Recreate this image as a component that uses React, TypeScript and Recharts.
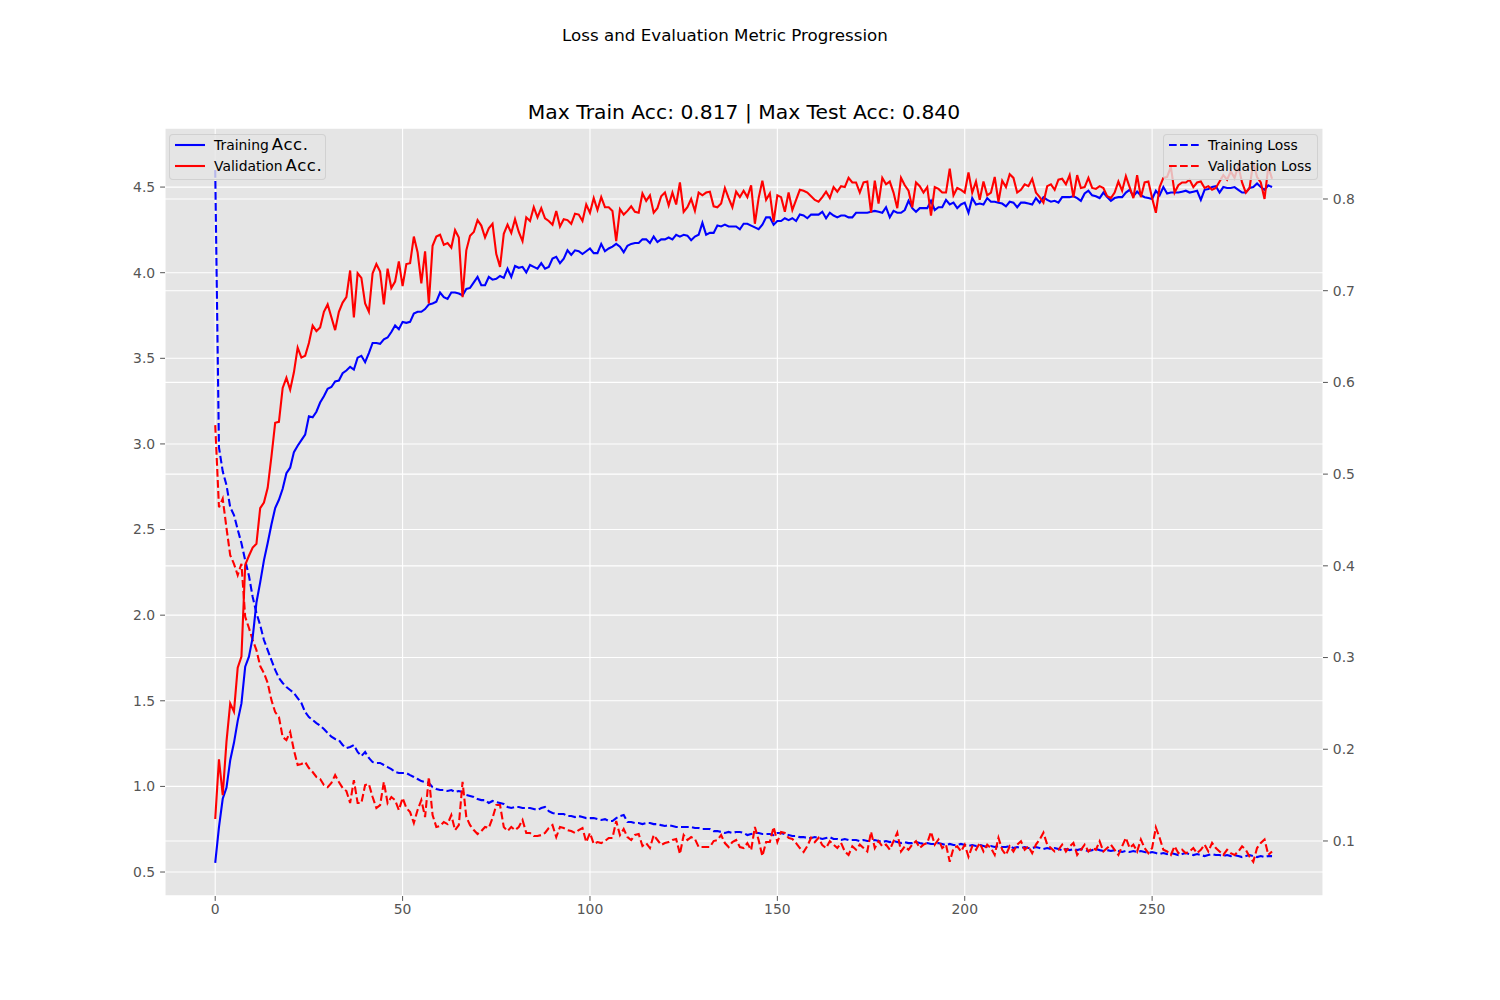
import { CartesianGrid, Line, LineChart, XAxis, YAxis } from "recharts";

// values, one per epoch (0..282)
const trainAcc = [
  0.076, 0.115, 0.146, 0.158, 0.188, 0.207, 0.231, 0.250, 0.290, 0.301,
  0.322, 0.360, 0.382, 0.406, 0.425, 0.445, 0.463, 0.472, 0.484, 0.501,
  0.507, 0.524, 0.531, 0.537, 0.543, 0.563, 0.562, 0.568, 0.578, 0.585,
  0.593, 0.595, 0.601, 0.602, 0.610, 0.613, 0.617, 0.614, 0.627, 0.629,
  0.622, 0.632, 0.643, 0.643, 0.642, 0.647, 0.649, 0.655, 0.662, 0.658,
  0.666, 0.665, 0.666, 0.675, 0.677, 0.677, 0.680, 0.685, 0.686, 0.688,
  0.698, 0.693, 0.691, 0.698, 0.698, 0.697, 0.695, 0.702, 0.703, 0.709,
  0.715, 0.706, 0.706, 0.715, 0.712, 0.713, 0.716, 0.714, 0.724, 0.715,
  0.727, 0.725, 0.726, 0.720, 0.728, 0.726, 0.724, 0.730, 0.724, 0.726,
  0.735, 0.737, 0.730, 0.735, 0.744, 0.739, 0.744, 0.743, 0.740, 0.743,
  0.746, 0.741, 0.741, 0.751, 0.743, 0.746, 0.748, 0.751, 0.748, 0.742,
  0.749, 0.751, 0.752, 0.752, 0.756, 0.756, 0.752, 0.759, 0.753, 0.756,
  0.756, 0.758, 0.756, 0.761, 0.759, 0.761, 0.760, 0.755, 0.759, 0.761,
  0.774, 0.761, 0.763, 0.763, 0.771, 0.770, 0.772, 0.770, 0.770, 0.770,
  0.767, 0.773, 0.773, 0.771, 0.769, 0.767, 0.772, 0.780, 0.780, 0.772,
  0.776, 0.776, 0.779, 0.777, 0.779, 0.776, 0.783, 0.782, 0.779, 0.783,
  0.783, 0.783, 0.786, 0.779, 0.785, 0.782, 0.780, 0.782, 0.782, 0.780,
  0.780, 0.785, 0.785, 0.785, 0.785, 0.786, 0.787, 0.786, 0.785, 0.791,
  0.780, 0.787, 0.785, 0.785, 0.788, 0.798, 0.790, 0.786, 0.790, 0.790,
  0.790, 0.798, 0.788, 0.791, 0.791, 0.799, 0.794, 0.796, 0.790, 0.794,
  0.796, 0.785, 0.801, 0.794, 0.795, 0.794, 0.801, 0.797, 0.797, 0.796,
  0.795, 0.792, 0.797, 0.796, 0.791, 0.796, 0.796, 0.795, 0.794, 0.801,
  0.796, 0.802, 0.799, 0.797, 0.798, 0.796, 0.802, 0.802, 0.802, 0.803,
  0.801, 0.798, 0.806, 0.809, 0.804, 0.803, 0.801, 0.807, 0.802, 0.798,
  0.801, 0.802, 0.802, 0.807, 0.810, 0.803, 0.808, 0.804, 0.802, 0.801,
  0.800, 0.809, 0.804, 0.813, 0.806, 0.807, 0.807, 0.807, 0.808, 0.809,
  0.807, 0.808, 0.809, 0.799, 0.810, 0.811, 0.813, 0.814, 0.807, 0.813,
  0.812, 0.812, 0.813, 0.810, 0.807, 0.807, 0.812, 0.813, 0.817, 0.813,
  0.810, 0.815, 0.813,
];

const valAcc = [
  0.124, 0.189, 0.150, 0.208, 0.250, 0.241, 0.289, 0.301, 0.401, 0.411,
  0.420, 0.424, 0.463, 0.469, 0.485, 0.519, 0.556, 0.557, 0.594, 0.605,
  0.592, 0.611, 0.638, 0.627, 0.629, 0.643, 0.662, 0.656, 0.660, 0.677,
  0.685, 0.671, 0.657, 0.677, 0.687, 0.693, 0.722, 0.671, 0.719, 0.714,
  0.686, 0.677, 0.719, 0.729, 0.721, 0.685, 0.724, 0.703, 0.710, 0.732,
  0.705, 0.729, 0.730, 0.759, 0.742, 0.708, 0.743, 0.686, 0.749, 0.759,
  0.761, 0.750, 0.752, 0.747, 0.766, 0.758, 0.693, 0.744, 0.760, 0.764,
  0.777, 0.771, 0.758, 0.768, 0.773, 0.740, 0.726, 0.762, 0.772, 0.763,
  0.778, 0.764, 0.754, 0.780, 0.776, 0.791, 0.780, 0.790, 0.779, 0.776,
  0.772, 0.787, 0.770, 0.778, 0.777, 0.773, 0.784, 0.783, 0.776, 0.794,
  0.785, 0.801, 0.788, 0.802, 0.791, 0.791, 0.787, 0.754, 0.789, 0.783,
  0.787, 0.792, 0.786, 0.785, 0.806, 0.798, 0.804, 0.785, 0.790, 0.803,
  0.807, 0.793, 0.807, 0.794, 0.818, 0.786, 0.791, 0.800, 0.787, 0.807,
  0.804, 0.807, 0.808, 0.792, 0.791, 0.795, 0.812, 0.801, 0.791, 0.808,
  0.802, 0.809, 0.802, 0.815, 0.773, 0.801, 0.820, 0.799, 0.806, 0.775,
  0.804, 0.802, 0.786, 0.807, 0.788, 0.799, 0.810, 0.809, 0.807, 0.803,
  0.799, 0.797, 0.802, 0.808, 0.801, 0.813, 0.808, 0.814, 0.813, 0.823,
  0.818, 0.818, 0.807, 0.818, 0.819, 0.785, 0.820, 0.795, 0.823, 0.816,
  0.819, 0.807, 0.790, 0.823, 0.815, 0.809, 0.791, 0.818, 0.814, 0.807,
  0.813, 0.782, 0.813, 0.811, 0.807, 0.807, 0.833, 0.804, 0.812, 0.810,
  0.807, 0.829, 0.807, 0.819, 0.799, 0.819, 0.804, 0.807, 0.824, 0.797,
  0.820, 0.813, 0.827, 0.823, 0.807, 0.810, 0.816, 0.814, 0.822, 0.807,
  0.802, 0.796, 0.814, 0.816, 0.810, 0.821, 0.822, 0.816, 0.826, 0.802,
  0.826, 0.812, 0.813, 0.823, 0.812, 0.811, 0.814, 0.812, 0.803, 0.801,
  0.807, 0.819, 0.809, 0.825, 0.813, 0.801, 0.826, 0.802, 0.818, 0.819,
  0.801, 0.785, 0.813, 0.823, 0.824, 0.835, 0.807, 0.815, 0.818, 0.818,
  0.821, 0.813, 0.818, 0.819, 0.812, 0.814, 0.810, 0.812, 0.819, 0.826,
  0.821, 0.830, 0.823, 0.836, 0.818, 0.807, 0.812, 0.840, 0.824, 0.818,
  0.800, 0.835, 0.822,
];

const trainLoss = [
  4.600, 2.980, 2.840, 2.760, 2.630, 2.585, 2.500, 2.420, 2.320, 2.230,
  2.106, 2.012, 1.942, 1.855, 1.796, 1.738, 1.680, 1.633, 1.604, 1.580,
  1.563, 1.545, 1.516, 1.487, 1.434, 1.405, 1.388, 1.370, 1.355, 1.335,
  1.312, 1.290, 1.277, 1.271, 1.242, 1.224, 1.230, 1.242, 1.201, 1.177,
  1.201, 1.166, 1.142, 1.137, 1.137, 1.125, 1.113, 1.101, 1.084, 1.078,
  1.078, 1.078, 1.066, 1.055, 1.043, 1.031, 1.026, 1.020, 0.996, 0.985,
  0.979, 0.979, 0.973, 0.979, 0.967, 0.973, 0.967, 0.950, 0.944, 0.938,
  0.926, 0.920, 0.920, 0.903, 0.915, 0.909, 0.903, 0.897, 0.880, 0.874,
  0.880, 0.880, 0.874, 0.874, 0.874, 0.868, 0.862, 0.874, 0.880, 0.856,
  0.845, 0.839, 0.839, 0.839, 0.827, 0.827, 0.821, 0.827, 0.821, 0.815,
  0.815, 0.815, 0.809, 0.804, 0.809, 0.798, 0.798, 0.815, 0.827, 0.833,
  0.792, 0.792, 0.786, 0.786, 0.780, 0.786, 0.786, 0.780, 0.780, 0.774,
  0.769, 0.774, 0.769, 0.763, 0.763, 0.763, 0.763, 0.763, 0.757, 0.757,
  0.751, 0.751, 0.751, 0.739, 0.739, 0.734, 0.728, 0.734, 0.728, 0.734,
  0.734, 0.728, 0.716, 0.722, 0.728, 0.728, 0.722, 0.722, 0.722, 0.716,
  0.728, 0.728, 0.722, 0.716, 0.710, 0.710, 0.704, 0.704, 0.699, 0.699,
  0.704, 0.699, 0.693, 0.699, 0.704, 0.693, 0.693, 0.687, 0.693, 0.687,
  0.687, 0.687, 0.681, 0.687, 0.681, 0.681, 0.687, 0.681, 0.675, 0.681,
  0.675, 0.681, 0.675, 0.669, 0.675, 0.669, 0.669, 0.675, 0.669, 0.664,
  0.669, 0.664, 0.664, 0.669, 0.664, 0.658, 0.664, 0.658, 0.658, 0.664,
  0.658, 0.652, 0.658, 0.652, 0.658, 0.652, 0.646, 0.652, 0.646, 0.652,
  0.646, 0.646, 0.652, 0.640, 0.646, 0.640, 0.646, 0.640, 0.640, 0.646,
  0.640, 0.634, 0.640, 0.634, 0.640, 0.634, 0.628, 0.634, 0.628, 0.634,
  0.628, 0.634, 0.628, 0.623, 0.628, 0.634, 0.628, 0.623, 0.628, 0.623,
  0.628, 0.623, 0.617, 0.623, 0.617, 0.623, 0.617, 0.623, 0.617, 0.611,
  0.617, 0.611, 0.605, 0.611, 0.605, 0.611, 0.605, 0.599, 0.605, 0.611,
  0.605, 0.599, 0.605, 0.599, 0.593, 0.599, 0.605, 0.599, 0.599, 0.593,
  0.599, 0.593, 0.599, 0.593, 0.587, 0.593, 0.599, 0.593, 0.587, 0.593,
  0.587, 0.593, 0.593,
];

const valLoss = [
  3.110, 2.630, 2.680, 2.510, 2.350, 2.300, 2.234, 2.300, 1.990, 1.925,
  1.855, 1.796, 1.703, 1.662, 1.604, 1.504, 1.434, 1.405, 1.288, 1.271,
  1.318, 1.212, 1.125, 1.131, 1.142, 1.107, 1.084, 1.055, 1.043, 1.008,
  0.996, 1.020, 1.066, 1.026, 0.991, 0.973, 0.903, 1.037, 0.903, 0.903,
  1.008, 1.014, 0.938, 0.874, 0.891, 1.026, 0.903, 0.938, 0.920, 0.862,
  0.932, 0.874, 0.850, 0.786, 0.862, 0.920, 0.821, 1.055, 0.833, 0.763,
  0.769, 0.792, 0.780, 0.833, 0.745, 0.774, 1.026, 0.821, 0.774, 0.745,
  0.722, 0.739, 0.763, 0.757, 0.815, 0.891, 0.891, 0.763, 0.739, 0.763,
  0.745, 0.763, 0.804, 0.728, 0.728, 0.710, 0.710, 0.716, 0.728, 0.757,
  0.774, 0.704, 0.763, 0.757, 0.745, 0.739, 0.728, 0.745, 0.757, 0.675,
  0.728, 0.664, 0.675, 0.669, 0.681, 0.699, 0.699, 0.798, 0.716, 0.751,
  0.704, 0.687, 0.716, 0.722, 0.652, 0.669, 0.640, 0.716, 0.687, 0.658,
  0.669, 0.675, 0.687, 0.693, 0.605, 0.716, 0.687, 0.704, 0.693, 0.646,
  0.646, 0.646, 0.646, 0.681, 0.687, 0.716, 0.669, 0.646, 0.675, 0.687,
  0.646, 0.640, 0.669, 0.628, 0.763, 0.687, 0.593, 0.675, 0.675, 0.763,
  0.675, 0.734, 0.728, 0.699, 0.693, 0.669, 0.640, 0.617, 0.652, 0.700,
  0.675, 0.700, 0.657, 0.640, 0.680, 0.660, 0.640, 0.670, 0.620, 0.600,
  0.650, 0.630, 0.660, 0.640, 0.620, 0.735, 0.640, 0.680, 0.650, 0.660,
  0.630, 0.680, 0.730, 0.620, 0.650, 0.630, 0.660, 0.680, 0.640, 0.660,
  0.670, 0.735, 0.660, 0.690, 0.640, 0.660, 0.560, 0.640, 0.650, 0.620,
  0.660, 0.590, 0.650, 0.630, 0.670, 0.620, 0.660, 0.640, 0.600, 0.700,
  0.630, 0.600, 0.650, 0.620, 0.660, 0.680, 0.630, 0.650, 0.610, 0.660,
  0.690, 0.730, 0.660, 0.640, 0.620, 0.630, 0.660, 0.620, 0.650, 0.670,
  0.600, 0.630, 0.660, 0.620, 0.640, 0.630, 0.680, 0.620, 0.640, 0.660,
  0.630, 0.600, 0.650, 0.700, 0.640, 0.660, 0.620, 0.690, 0.640, 0.610,
  0.640, 0.760, 0.700, 0.630, 0.620, 0.600, 0.650, 0.610, 0.630, 0.610,
  0.620, 0.640, 0.610, 0.630, 0.660, 0.620, 0.670, 0.640, 0.620, 0.600,
  0.630, 0.610, 0.600, 0.620, 0.650, 0.630, 0.590, 0.560, 0.640, 0.670,
  0.690, 0.600, 0.620,
];

const xTicks = [0, 50, 100, 150, 200, 250];
const lossTicks = [0.5, 1.0, 1.5, 2.0, 2.5, 3.0, 3.5, 4.0, 4.5];
const accTicks = [0.1, 0.2, 0.3, 0.4, 0.5, 0.6, 0.7, 0.8];

const BLUE = "#0000ff";
const RED = "#ff0000";
const FONT = "DejaVu Sans, sans-serif";
const DASH = "7.7 3.3";

const data = trainAcc.map((v, i) => ({
  epoch: i,
  trainAcc: v,
  valAcc: valAcc[i],
  trainLoss: trainLoss[i],
  valLoss: valLoss[i],
}));

const accLegend = [
  { label: "Training", suffix: "Acc.", color: BLUE, dashed: false },
  { label: "Validation", suffix: "Acc.", color: RED, dashed: false },
];
const lossLegend = [
  { label: "Training Loss", suffix: "", color: BLUE, dashed: true },
  { label: "Validation Loss", suffix: "", color: RED, dashed: true },
];

const tick = { fill: "#555555", fontSize: 13.9, fontFamily: FONT };

function LegendBox({ items, left, width }: { items: typeof accLegend; left: number; width: number }) {
  return (
    <div
      style={{
        position: "absolute",
        left,
        top: 134,
        width,
        height: 46,
        boxSizing: "border-box",
        border: "1px solid rgba(204,204,204,0.8)",
        borderRadius: 4,
        background: "rgba(229,229,229,0.8)",
        fontFamily: FONT,
        fontSize: 13.9,
        color: "#000",
      }}
    >
      {items.map((it, i) => (
        <div
          key={it.label}
          style={{ position: "absolute", left: 0, top: -1 + i * 21, height: 21, display: "flex", alignItems: "center" }}
        >
          <svg width={39} height={6} style={{ marginLeft: 5 }}>
            <line x1={0} x2={30} y1={3} y2={3} stroke={it.color} strokeWidth={2.1} strokeDasharray={it.dashed ? DASH : undefined} />
          </svg>
          <span style={{ whiteSpace: "nowrap" }}>
            {it.label}
            {it.suffix && <span style={{ fontSize: 16.5, marginLeft: 3, letterSpacing: 0.6 }}>{it.suffix}</span>}
          </span>
        </div>
      ))}
    </div>
  );
}

export default function App() {
  return (
    <div style={{ position: "absolute", left: 0, top: 0, width: 1500, height: 1000, background: "#fff", fontFamily: FONT }}>
      <div style={{ position: "absolute", left: 0, width: 1450, top: 27, textAlign: "center", fontSize: 16.7, lineHeight: "16.7px" }}>
        Loss and Evaluation Metric Progression
      </div>
      <div style={{ position: "absolute", left: 165, width: 1158, top: 102, textAlign: "center", fontSize: 20.3, lineHeight: "20px" }}>
        Max Train Acc: 0.817 | Max Test Acc: 0.840
      </div>
      <LineChart width={1500} height={1000} data={data} margin={{ top: 128, right: 112, bottom: 64, left: 100 }}>
        <CartesianGrid yAxisId="left" fill="#e5e5e5" fillOpacity={1} stroke="#ffffff" strokeWidth={1.1} />
        <CartesianGrid yAxisId="right" vertical={false} stroke="#ffffff" strokeWidth={1.1} />
        <XAxis
          dataKey="epoch"
          type="number"
          domain={[-13.4, 295.6]}
          ticks={xTicks}
          allowDataOverflow
          axisLine={false}
          tickLine={{ stroke: "#555555" }}
          tickSize={4.9}
          tickMargin={3}
          tick={tick}
          height={40}
        />
        <YAxis
          yAxisId="left"
          domain={[0.36, 4.845]}
          ticks={lossTicks}
          allowDataOverflow
          axisLine={false}
          tickLine={{ stroke: "#555555" }}
          tickSize={4.9}
          tickMargin={4.9}
          tick={tick}
          tickFormatter={(v: number) => v.toFixed(1)}
          width={65}
        />
        <YAxis
          yAxisId="right"
          orientation="right"
          domain={[0.04, 0.8774]}
          ticks={accTicks}
          allowDataOverflow
          axisLine={false}
          tickLine={{ stroke: "#555555" }}
          tickSize={4.9}
          tickMargin={4.9}
          tick={tick}
          tickFormatter={(v: number) => v.toFixed(1)}
          width={65}
        />
        <Line yAxisId="left" type="linear" dataKey="trainLoss" stroke={BLUE} strokeWidth={2.1} strokeDasharray={DASH} dot={false} isAnimationActive={false} />
        <Line yAxisId="left" type="linear" dataKey="valLoss" stroke={RED} strokeWidth={2.1} strokeDasharray={DASH} dot={false} isAnimationActive={false} />
        <Line yAxisId="right" type="linear" dataKey="trainAcc" stroke={BLUE} strokeWidth={2.1} dot={false} isAnimationActive={false} />
        <Line yAxisId="right" type="linear" dataKey="valAcc" stroke={RED} strokeWidth={2.1} dot={false} isAnimationActive={false} />
      </LineChart>
      <LegendBox items={accLegend} left={169} width={157} />
      <LegendBox items={lossLegend} left={1163} width={155} />
    </div>
  );
}
